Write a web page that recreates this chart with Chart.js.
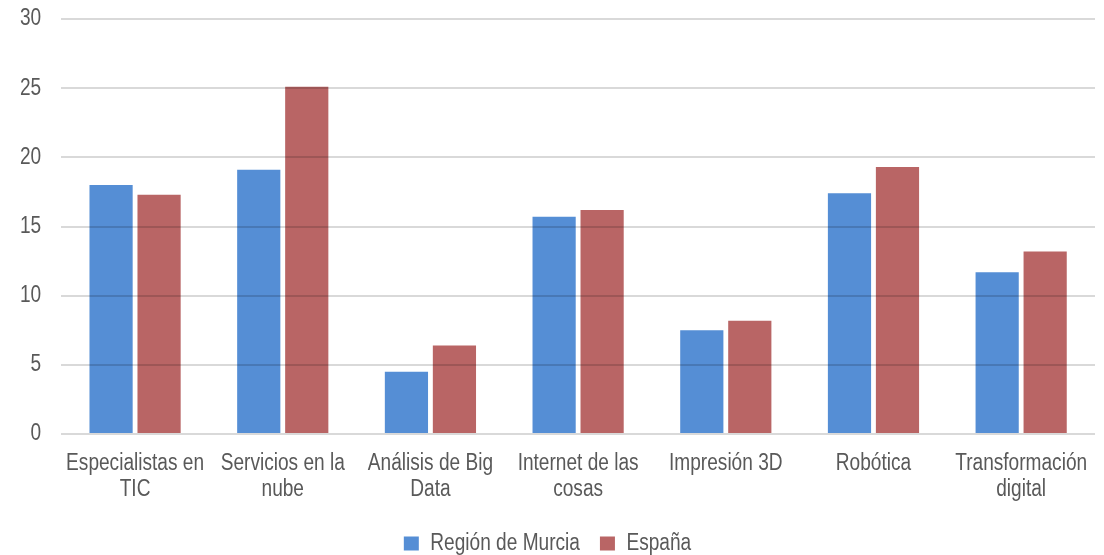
<!DOCTYPE html>
<html><head><meta charset="utf-8">
<script src="https://cdn.jsdelivr.net/npm/chart.js@4/dist/chart.umd.min.js"></script>
<style>html,body{margin:0;padding:0;background:#fff}#wrap{width:1104px;height:555px}</style>
</head><body><div id="wrap"><canvas id="c"></canvas></div>
<script>
const categories = [["Especialistas en","TIC"],["Servicios en la","nube"],["Análisis de Big","Data"],["Internet de las","cosas"],["Impresión 3D"],["Robótica"],["Transformación","digital"]];
const murcia = [18.0, 19.1, 4.5, 15.7, 7.5, 17.4, 11.7];
const espana = [17.3, 25.1, 6.4, 16.2, 8.2, 19.3, 13.2];
const seriesNames = ["Región de Murcia","España"];

// Condensed text rendering (reference uses a narrow sans font)
const canvas = document.getElementById('c');
const ctx = canvas.getContext('2d');
const SX = 0.83;
const origFill = ctx.fillText.bind(ctx);
const origMeasure = ctx.measureText.bind(ctx);
ctx.fillText = function(t, x, y, mw) {
  ctx.save(); ctx.translate(x, y); ctx.scale(SX, 1);
  if (mw !== undefined) origFill(t, 0, 0, mw / SX); else origFill(t, 0, 0);
  ctx.restore();
};
ctx.measureText = function(t) {
  const m = origMeasure(t);
  return {width: m.width * SX, actualBoundingBoxAscent: m.actualBoundingBoxAscent, actualBoundingBoxDescent: m.actualBoundingBoxDescent,
    actualBoundingBoxLeft: m.actualBoundingBoxLeft * SX, actualBoundingBoxRight: m.actualBoundingBoxRight * SX};
};

Chart.defaults.font.family = "'Liberation Sans', Arial, sans-serif";
Chart.defaults.color = "#595959";
new Chart(canvas, {
  type: 'bar',
  data: { labels: categories, datasets: [
    {label: seriesNames[0], data: murcia, backgroundColor: '#558ed5', categoryPercentage: 0.65, barPercentage: 0.9},
    {label: seriesNames[1], data: espana, backgroundColor: '#b96565', categoryPercentage: 0.65, barPercentage: 0.9}
  ]},
  options: {
    responsive: true, maintainAspectRatio: false, animation: false,
    layout: {padding: {left: 0, right: 9, top: 19, bottom: -10}},
    plugins: {
      legend: {position: 'bottom', labels: {boxWidth: 15, boxHeight: 14, font: {size: 23}, padding: 20, color: '#595959'}},
      tooltip: {enabled: false}
    },
    scales: {
      x: {grid: {display: false}, border: {display: false}, ticks: {font: {size: 23, lineHeight: 1.15}, padding: 8, color: '#595959', maxRotation: 0, autoSkip: false},
          afterFit: (s) => { s.height += 1; }},
      y: {min: 0, max: 30, ticks: {stepSize: 5, font: {size: 23, lineHeight: 1}, color: '#595959', padding: 20},
          grid: {color: 'rgba(0,0,0,0.15)', lineWidth: 2, drawTicks: false, z: 1}, border: {display: false},
          afterFit: (s) => { s.paddingTop = 0; s.paddingBottom = 0; }}
    }
  }
});
</script></body></html>
